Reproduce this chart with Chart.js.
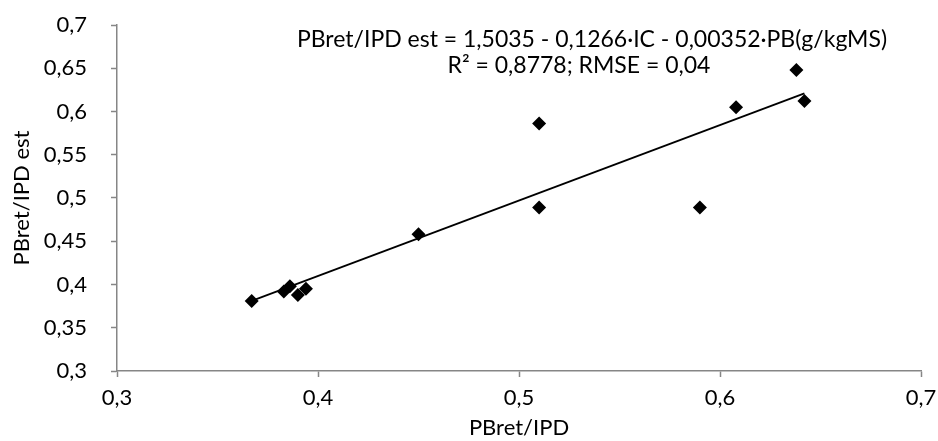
<!DOCTYPE html>
<html>
<head>
<meta charset="utf-8">
<script src="https://cdn.jsdelivr.net/npm/chart.js@4.4.1/dist/chart.umd.min.js"></script>
<style>
  html, body { margin: 0; padding: 0; background: #ffffff; }
  canvas { display: block; }
</style>
</head>
<body>
<canvas id="chart" width="938" height="441"></canvas>
<script>
const observed = [0.367, 0.383, 0.386, 0.390, 0.394, 0.450, 0.510, 0.510, 0.590, 0.608, 0.638, 0.642];
const estimated = [0.381, 0.392, 0.398, 0.388, 0.395, 0.458, 0.586, 0.489, 0.489, 0.605, 0.648, 0.612];

// trendline end points
const trendX = [0.367, 0.642];
const trendY = [0.381, 0.621];

const xTicks = [0.3, 0.4, 0.5, 0.6, 0.7];
const xTickLabels = ['0,3', '0,4', '0,5', '0,6', '0,7'];
const yTicks = [0.3, 0.35, 0.4, 0.45, 0.5, 0.55, 0.6, 0.65, 0.7];
const yTickLabels = ['0,3', '0,35', '0,4', '0,45', '0,5', '0,55', '0,6', '0,65', '0,7'];

const xTitle = 'PBret/IPD';
const yTitle = 'PBret/IPD est';
const equationLines = [
    'PBret/IPD est = 1,5035 - 0,1266·IC - 0,00352·PB(g/kgMS)',
    'R² = 0,8778; RMSE = 0,04'
];

const fontFamily = 'Lato, "Open Sans", sans-serif';
const axisGrey = '#868686';

// draws the equation text box in the top right
const equationPlugin = {
    id: 'equation',
    afterDraw(chart) {
        const ctx = chart.ctx;
        ctx.save();
        ctx.fillStyle = '#000000';
        ctx.font = '23px ' + fontFamily;
        ctx.textBaseline = 'middle';
        ctx.textAlign = 'center';
        ctx.fillText(equationLines[0], 592, 40);
        ctx.fillText(equationLines[1], 579, 66);
        ctx.restore();
    }
};

// keep the plot area fixed, no extra padding for end labels
const fixX = (scale) => {
    scale.height = 70;
    scale.paddingLeft = 0;
    scale.paddingRight = 0;
};
const fixY = (scale) => {
    scale.width = 117;
    scale.paddingTop = 0;
    scale.paddingBottom = 0;
};

const scatterPoints = observed.map((x, i) => ({ x: x, y: estimated[i] }));
const trendPoints = trendX.map((x, i) => ({ x: x, y: trendY[i] }));

new Chart(document.getElementById('chart'), {
    type: 'scatter',
    data: {
        datasets: [
            {
                label: 'trend',
                type: 'line',
                data: trendPoints,
                borderColor: '#000000',
                borderWidth: 1.8,
                pointRadius: 0,
                fill: false,
                order: 2
            },
            {
                label: 'PBret/IPD est',
                data: scatterPoints,
                pointStyle: 'rectRot',
                pointRadius: 7,
                pointHoverRadius: 7,
                backgroundColor: '#000000',
                borderColor: '#000000',
                borderWidth: 0,
                order: 1
            }
        ]
    },
    options: {
        responsive: false,
        animation: false,
        devicePixelRatio: 1,
        layout: { padding: { top: 25, right: 17, left: 0, bottom: 0 } },
        plugins: {
            legend: { display: false },
            tooltip: { enabled: false }
        },
        scales: {
            x: {
                type: 'linear',
                min: 0.3,
                max: 0.7,
                afterBuildTicks: (scale) => { scale.ticks = xTicks.map(v => ({ value: v })); },
                afterFit: fixX,
                grid: {
                    drawOnChartArea: false,
                    color: axisGrey,
                    tickLength: 6,
                    tickWidth: 1.5
                },
                border: { color: axisGrey, width: 1.5 },
                ticks: {
                    color: '#000000',
                    font: { family: fontFamily, size: 22 },
                    padding: 8,
                    maxRotation: 0,
                    callback: (value, index) => xTickLabels[index]
                },
                title: {
                    display: true,
                    text: xTitle,
                    color: '#000000',
                    font: { family: fontFamily, size: 22 },
                    padding: { top: 0, bottom: 0 }
                }
            },
            y: {
                type: 'linear',
                min: 0.3,
                max: 0.7,
                afterBuildTicks: (scale) => { scale.ticks = yTicks.map(v => ({ value: v })); },
                afterFit: fixY,
                grid: {
                    drawOnChartArea: false,
                    color: axisGrey,
                    tickLength: 6,
                    tickWidth: 1.5
                },
                border: { color: axisGrey, width: 1.5 },
                ticks: {
                    color: '#000000',
                    font: { family: fontFamily, size: 22 },
                    padding: 24,
                    callback: (value, index) => yTickLabels[index]
                },
                title: {
                    display: true,
                    text: yTitle,
                    color: '#000000',
                    font: { family: fontFamily, size: 22 },
                    padding: { top: 9, bottom: 0 }
                }
            }
        }
    },
    plugins: [equationPlugin]
});
</script>
</body>
</html>
